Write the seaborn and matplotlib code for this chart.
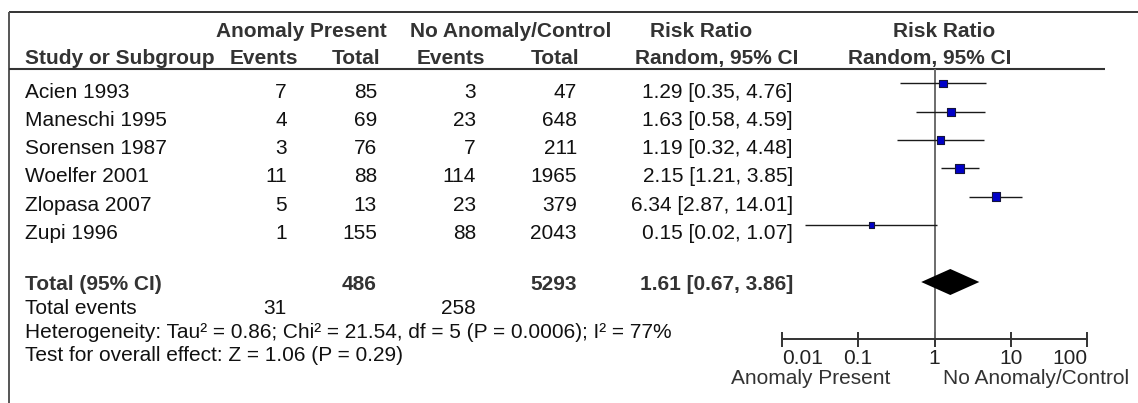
import numpy as np
import pandas as pd
import matplotlib
matplotlib.use("Agg")
import matplotlib.pyplot as plt
from matplotlib.ticker import NullLocator
import seaborn as sns

# ---- data -------------------------------------------------------------
studies = ["Acien 1993", "Maneschi 1995", "Sorensen 1987",
           "Woelfer 2001", "Zlopasa 2007", "Zupi 1996"]
events_present = [7, 4, 3, 11, 5, 1]
total_present = [85, 69, 76, 88, 13, 155]
events_control = [3, 23, 7, 114, 23, 88]
total_control = [47, 648, 211, 1965, 379, 2043]
rr = [1.29, 1.63, 1.19, 2.15, 6.34, 0.15]
ci_low = [0.35, 0.58, 0.32, 1.21, 2.87, 0.02]
ci_high = [4.76, 4.59, 4.48, 3.85, 14.01, 1.07]
weight_pct = [15.4, 17.7, 15.3, 21.3, 19.7, 10.6]
pooled_rr, pooled_low, pooled_high = 1.61, 0.67, 3.86
heterogeneity = "Heterogeneity: Tau² = 0.86; Chi² = 21.54, df = 5 (P = 0.0006); I² = 77%"
overall_effect = "Test for overall effect: Z = 1.06 (P = 0.29)"
axis_ticks = [0.01, 0.1, 1, 10, 100]
axis_tick_labels = ["0.01", "0.1", "1", "10", "100"]
favours_left = "Anomaly Present"
favours_right = "No Anomaly/Control"

# ---- style ------------------------------------------------------------
sns.set_theme(style="white")
plt.rcParams["font.family"] = ["Liberation Sans", "DejaVu Sans"]

W, H = 1138, 403
FS = 15
HEAD_C = "#333333"
TXT_C = "#111111"
LINE_C = "#333333"

fig = plt.figure(figsize=(W / 100, H / 100), dpi=100)

# full-figure layer in pixel units for the table text and frame
bg = fig.add_axes([0, 0, 1, 1])
bg.set_xlim(0, W)
bg.set_ylim(H, 0)
bg.axis("off")

bg.plot([9, W], [12, 12], color=LINE_C, lw=1.4, solid_capstyle="butt")
bg.plot([9, 9], [12, H], color="#555555", lw=1.4, solid_capstyle="butt")
bg.plot([9, 1105], [69, 69], color=LINE_C, lw=1.5, solid_capstyle="butt")


def txt(x, y, s, ha="left", bold=False, color=None, size=FS):
    bg.text(x, y, s, ha=ha, va="baseline", fontsize=size,
            fontweight="bold" if bold else "normal",
            color=color or (HEAD_C if bold else TXT_C))


# header
txt(301, 37, "Anomaly Present", ha="center", bold=True)
txt(511, 37, "No Anomaly/Control", ha="center", bold=True)
txt(701, 37, "Risk Ratio", ha="center", bold=True)
txt(944, 37, "Risk Ratio", ha="center", bold=True)
txt(25, 64, "Study or Subgroup", bold=True)
txt(298, 64, "Events", ha="right", bold=True)
txt(380, 64, "Total", ha="right", bold=True)
txt(485, 64, "Events", ha="right", bold=True)
txt(579, 64, "Total", ha="right", bold=True)
txt(717, 64, "Random, 95% CI", ha="center", bold=True)
txt(930, 64, "Random, 95% CI", ha="center", bold=True)

# column anchors (right edges)
X_EP, X_TP, X_EC, X_TC, X_CI = 287, 377, 476, 577, 793

row_y = [83.3 + 28.33 * i for i in range(len(studies))]
for i, name in enumerate(studies):
    b = row_y[i] + 14.2
    txt(25, b, name)
    txt(X_EP, b, str(events_present[i]), ha="right")
    txt(X_TP, b, str(total_present[i]), ha="right")
    txt(X_EC, b, str(events_control[i]), ha="right")
    txt(X_TC, b, str(total_control[i]), ha="right")
    txt(X_CI, b, f"{rr[i]:.2f} [{ci_low[i]:.2f}, {ci_high[i]:.2f}]", ha="right")

total_y = 282
b = 290
txt(25, b, "Total (95% CI)", bold=True)
txt(X_TP, b, str(sum(total_present)), ha="right", bold=True)
txt(X_TC, b, str(sum(total_control)), ha="right", bold=True)
txt(X_CI, b, f"{pooled_rr:.2f} [{pooled_low:.2f}, {pooled_high:.2f}]",
    ha="right", bold=True)

txt(25, 314, "Total events")
txt(X_EP, 314, str(sum(events_present)), ha="right")
txt(X_EC, 314, str(sum(events_control)), ha="right")
txt(25, 337.5, heterogeneity)
txt(25, 361, overall_effect)

# ---- forest plot --------------------------------------------------------
x0, x1 = 781.7, 1087.3
y_top, y_axis = 69, 339
fx = fig.add_axes([x0 / W, 1 - y_axis / H, (x1 - x0) / W, (y_axis - y_top) / H])
fx.patch.set_visible(False)

fx.axvline(1, color="#6b6b6b", lw=1.4, zorder=1)
fx.hlines(row_y, ci_low, ci_high, color="#1a1a1a", lw=1.0, zorder=2)

df = pd.DataFrame({"rr": rr, "y": row_y, "w": weight_pct})
side_pt = (2.4 + 0.31 * df["w"]) * 0.72
sns.scatterplot(data=df, x="rr", y="y", marker="s", s=side_pt ** 2,
                color="#0000c8", edgecolor="#14143c", linewidth=0.8,
                legend=False, zorder=3, ax=fx)

dh = 13
fx.fill([pooled_low, pooled_rr, pooled_high, pooled_rr],
        [total_y, total_y - dh, total_y, total_y + dh],
        color="black", lw=0, zorder=3)

fx.set_xscale("log")
fx.set_xlim(0.01, 100)
fx.set_ylim(y_axis, y_top)
fx.set_xlabel("")
fx.set_ylabel("")
fx.set_yticks([])
fx.set_xticks(axis_ticks)
fx.set_xticklabels(axis_tick_labels)
fx.xaxis.set_minor_locator(NullLocator())
for lab, ha in zip(fx.get_xticklabels(), ["left", "center", "center", "center", "right"]):
    lab.set_ha(ha)
for side in ("top", "left", "right"):
    fx.spines[side].set_visible(False)
fx.spines["bottom"].set_color(LINE_C)
fx.spines["bottom"].set_linewidth(1.4)
fx.tick_params(axis="x", which="major", direction="inout", length=15 * 0.72,
               width=1.4, color=LINE_C, labelsize=FS, labelcolor="#222222",
               pad=1.5, bottom=True)

txt(890, 384, favours_left, ha="right", color="#333333")
txt(943, 384, favours_right, ha="left", color="#333333")

fig.savefig("out.png", dpi=100)
